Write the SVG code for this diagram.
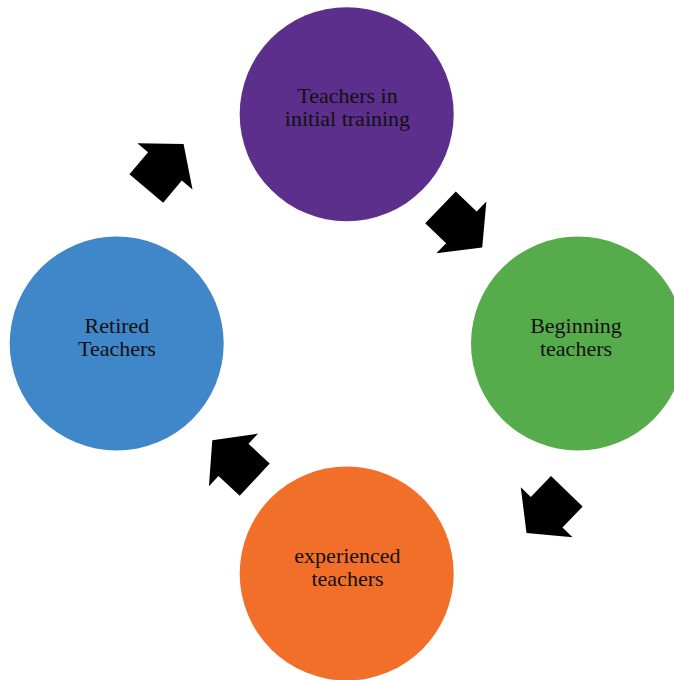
<svg xmlns="http://www.w3.org/2000/svg" width="674" height="680" viewBox="0 0 674 680">
<defs>
<style>
.lbl{font-family:"Liberation Serif","Times New Roman",serif;font-size:22px;fill:#111;text-anchor:middle}
.arr{fill:#000}
</style>
<polygon id="arrowShape" points="0,-22 29,-22 29,-36 58,0 29,36 29,22 0,22"/>
</defs>
<rect width="674" height="680" fill="#fff"/>
<g id="connectors">
<use href="#arrowShape" class="arr" transform="translate(146.3,188.5) rotate(-50)"/>
<use href="#arrowShape" class="arr" transform="translate(440.5,207.3) rotate(44)"/>
<use href="#arrowShape" class="arr" transform="translate(566.8,491.3) rotate(134)"/>
<use href="#arrowShape" class="arr" transform="translate(254.7,479.7) rotate(-137)"/>
</g>
<g id="node-initial">
<circle cx="346.7" cy="114.2" r="107" fill="#5C2F8C"/>
<text class="lbl" x="347.5" y="103">Teachers in</text>
<text class="lbl" x="347.5" y="126">initial training</text>
</g>
<g id="node-beginning">
<circle cx="578" cy="343.5" r="107" fill="#56AC4A"/>
<text class="lbl" x="576" y="333">Beginning</text>
<text class="lbl" x="576" y="356">teachers</text>
</g>
<g id="node-experienced">
<circle cx="346.7" cy="573.5" r="107" fill="#F26F2A"/>
<text class="lbl" x="347.5" y="563">experienced</text>
<text class="lbl" x="347.5" y="586">teachers</text>
</g>
<g id="node-retired">
<circle cx="116.7" cy="343.5" r="107" fill="#3F87C8"/>
<text class="lbl" x="117" y="333">Retired</text>
<text class="lbl" x="117" y="356">Teachers</text>
</g>
</svg>
